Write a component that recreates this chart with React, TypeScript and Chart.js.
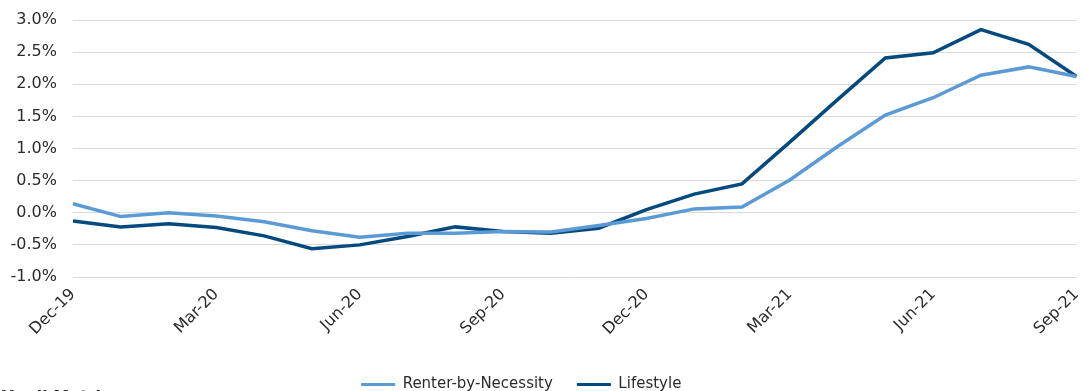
import React, { useEffect, useRef } from "react";
import { Chart, registerables } from "chart.js";

Chart.register(...registerables);

const months = [
  "Dec-19", "Jan-20", "Feb-20", "Mar-20", "Apr-20", "May-20", "Jun-20", "Jul-20",
  "Aug-20", "Sep-20", "Oct-20", "Nov-20", "Dec-20", "Jan-21", "Feb-21", "Mar-21",
  "Apr-21", "May-21", "Jun-21", "Jul-21", "Aug-21", "Sep-21",
];

const renterByNecessity = [
  0.14, -0.06, 0.0, -0.05, -0.14, -0.28, -0.38, -0.32, -0.32, -0.29, -0.3,
  -0.2, -0.09, 0.06, 0.09, 0.51, 1.03, 1.52, 1.79, 2.14, 2.27, 2.12,
];

const lifestyle = [
  -0.13, -0.22, -0.17, -0.23, -0.36, -0.56, -0.5, -0.37, -0.22, -0.29, -0.32,
  -0.24, 0.05, 0.29, 0.45, 1.1, 1.76, 2.41, 2.49, 2.85, 2.62, 2.12,
];

const yMin = -1;
const yMax = 3;
const yStep = 0.5;

const LIGHT = "#5b9bd5";
const DARK = "#044a7f";
const TEXT = "#2b2b2b";
const FONT = "'DejaVu Sans', sans-serif";

export default function App() {
  const ref = useRef<HTMLCanvasElement | null>(null);

  useEffect(() => {
    if (!ref.current) return;
    const shiftLegend = {
      id: "shiftLegend",
      afterLayout(chart: any) {
        const lg = chart.legend;
        if (lg) {
          lg.left -= 17;
          lg.right -= 17;
        }
      },
    };
    const chart = new Chart(ref.current, {
      type: "line",
      data: {
        labels: months,
        datasets: [
          {
            label: "Renter-by-Necessity",
            data: renterByNecessity,
            borderColor: LIGHT,
            backgroundColor: LIGHT,
            borderWidth: 3.5,
            pointRadius: 0,
            tension: 0,
          },
          {
            label: "Lifestyle",
            data: lifestyle,
            borderColor: DARK,
            backgroundColor: DARK,
            borderWidth: 3.5,
            pointRadius: 0,
            tension: 0,
          },
        ],
      },
      options: {
        animation: false,
        responsive: false,
        layout: { padding: { top: 20, right: 9.5, left: 0, bottom: 0 } },
        scales: {
          x: {
            grid: { display: false },
            border: { display: false },
            afterFit(scale: any) {
              scale.height = 76;
              scale.paddingRight = 0;
              scale.paddingLeft = 0;
            },
            ticks: {
              autoSkip: false,
              minRotation: 45,
              maxRotation: 45,
              padding: 0,
              color: TEXT,
              font: { family: FONT, size: 16 },
              callback: (_v: any, i: number) => (i % 3 === 0 ? months[i] : ""),
            },
          },
          y: {
            min: yMin,
            max: yMax,
            afterFit(scale: any) {
              scale.width = 73;
              scale.paddingTop = 0;
              scale.paddingBottom = 0;
            },
            grid: { color: "#d9d9d9", lineWidth: 1, drawTicks: false },
            border: { display: false },
            ticks: {
              stepSize: yStep,
              padding: 16,
              color: TEXT,
              font: { family: FONT, size: 16 },
              callback: (v: any) => Number(v).toFixed(1) + "%",
            },
          },
        },
        plugins: {
          tooltip: { enabled: false },
          legend: {
            position: "bottom",
            labels: {
              boxWidth: 34,
              boxHeight: 3,
              padding: 24,
              color: TEXT,
              font: { family: FONT, size: 15 },
              generateLabels: (c: any) =>
                Chart.defaults.plugins.legend.labels
                  .generateLabels(c)
                  .map((it: any) => ({
                    ...it,
                    fillStyle: it.strokeStyle,
                    lineWidth: 0,
                  })),
            },
          },
        },
      },
      plugins: [shiftLegend],
    } as any);
    return () => chart.destroy();
  }, []);

  return (
    <div
      style={{
        position: "absolute",
        left: 0,
        top: 0,
        width: 1086,
        height: 391,
        overflow: "hidden",
        background: "#fff",
      }}
    >
      <canvas ref={ref} width={1086} height={402} style={{ display: "block" }} />
      <div
        style={{
          position: "absolute",
          left: 2,
          top: 387,
          fontFamily: FONT,
          fontWeight: "bold",
          fontSize: 16,
          color: TEXT,
          whiteSpace: "nowrap",
        }}
      >
        Yardi Matrix
      </div>
    </div>
  );
}
